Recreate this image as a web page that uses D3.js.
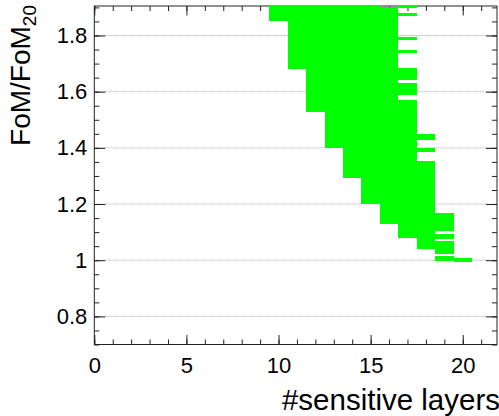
<!DOCTYPE html>
<html><head><meta charset="utf-8">
<script src="https://cdn.jsdelivr.net/npm/d3@7"></script>
<style>
body{margin:0;background:#fff}
svg{display:block}
</style>
</head><body>
<svg id="c" width="499" height="416"></svg>
<script>
// Data: each entry is one filled bin (x = number of sensitive layers, y range of FoM/FoM20)
const layers = [10, 11, 12, 13, 14, 15, 16,
                17, 17, 17, 17, 17, 17, 17,
                18, 18, 18,
                19, 19, 19, 19,
                20];
const yLow  = [1.852, 1.679, 1.528, 1.398, 1.294, 1.200, 1.128,
               1.899, 1.870, 1.783, 1.738, 1.643, 1.588, 1.0775,
               1.428, 1.384, 1.039,
               1.104, 1.075, 1.021, 0.999,
               0.994];
const yHigh = [1.908, 1.908, 1.908, 1.908, 1.908, 1.908, 1.902,
               1.908, 1.881, 1.796, 1.750, 1.684, 1.630, 1.570,
               1.448, 1.398, 1.354,
               1.167, 1.0935, 1.067, 1.0135,
               1.007];
const xTicks = [0, 5, 10, 15, 20];
const xTickLabels = ["0", "5", "10", "15", "20"];
const yTicks = [0.8, 1.0, 1.2, 1.4, 1.6, 1.8];
const yTickLabels = ["0.8", "1", "1.2", "1.4", "1.6", "1.8"];
const xTitle = "#sensitive layers";
const yTitleMain = "FoM/FoM";
const yTitleSub = "20";

const FONT = "'Liberation Sans', Arial, Helvetica, sans-serif";
const svg = d3.select("#c");
const L = 94.3, R = 497, T = 6, B = 344.5;
const x = d3.scaleLinear().domain([0, 21.86]).range([L, R]);
const y = d3.scaleLinear().domain([0.7, 1.905]).range([B, T]);

// gridlines
svg.append("g").selectAll("line").data(yTicks).join("line")
  .attr("x1", L).attr("x2", R)
  .attr("y1", d => y(d)).attr("y2", d => y(d))
  .attr("stroke", "#a8a8a8").attr("stroke-width", 1)
  .attr("stroke-dasharray", "1,1");

// axes
const xMinor = d3.range(0, 22, 1);
const yMinor = d3.range(0, 25).map(i => +(0.7 + i * 0.05).toFixed(2));
function styleAxis(g) {
  g.select(".domain").remove();
  g.selectAll("line").attr("stroke", "#222").attr("stroke-width", 1);
  g.selectAll("text").attr("font-family", FONT).attr("font-size", 22).attr("fill", "#000");
}
// bottom
svg.append("g").attr("transform", `translate(0,${B})`)
  .call(d3.axisBottom(x).tickValues(xMinor).tickSize(-5).tickFormat(""))
  .call(styleAxis);
svg.append("g").attr("transform", `translate(0,${B})`)
  .call(d3.axisBottom(x).tickValues(xTicks).tickSize(-9.5).tickPadding(13)
        .tickFormat((d, i) => xTickLabels[i]))
  .call(styleAxis);
// top
svg.append("g").attr("transform", `translate(0,${T})`)
  .call(d3.axisTop(x).tickValues(xMinor).tickSize(-5).tickFormat(""))
  .call(styleAxis);
svg.append("g").attr("transform", `translate(0,${T})`)
  .call(d3.axisTop(x).tickValues(xTicks).tickSize(-9.5).tickFormat(""))
  .call(styleAxis);
// left
svg.append("g").attr("transform", `translate(${L},0)`)
  .call(d3.axisLeft(y).tickValues(yMinor).tickSize(-5).tickFormat(""))
  .call(styleAxis);
svg.append("g").attr("transform", `translate(${L},0)`)
  .call(d3.axisLeft(y).tickValues(yTicks).tickSize(-11).tickPadding(7)
        .tickFormat((d, i) => yTickLabels[i]))
  .call(styleAxis);
// right
svg.append("g").attr("transform", `translate(${R},0)`)
  .call(d3.axisRight(y).tickValues(yMinor).tickSize(-5).tickFormat(""))
  .call(styleAxis);
svg.append("g").attr("transform", `translate(${R},0)`)
  .call(d3.axisRight(y).tickValues(yTicks).tickSize(-11).tickFormat(""))
  .call(styleAxis);

// frame
svg.append("rect").attr("x", L).attr("y", T).attr("width", R - L).attr("height", B - T)
  .attr("fill", "none").attr("stroke", "#222").attr("stroke-width", 1);

// bars (drawn over the frame/ticks, as in the reference)
const bins = layers.map((l, i) => ({l, lo: yLow[i], hi: yHigh[i]}));
svg.append("g").attr("shape-rendering", "crispEdges")
  .selectAll("rect").data(bins).join("rect")
  .attr("x", d => x(d.l - 0.5))
  .attr("width", d => x(d.l + 0.5) - x(d.l - 0.5))
  .attr("y", d => y(d.hi))
  .attr("height", d => y(d.lo) - y(d.hi))
  .attr("fill", "#00ff00");

// titles
svg.append("text").attr("x", 500).attr("y", 410).attr("text-anchor", "end")
  .attr("font-family", FONT).attr("font-size", 29.5).text(xTitle);
const yt = svg.append("text").attr("transform", "translate(30,5) rotate(-90)")
  .attr("text-anchor", "end").attr("font-family", FONT).attr("font-size", 28);
yt.append("tspan").text(yTitleMain);
yt.append("tspan").attr("font-size", 19).attr("dy", 6).text(yTitleSub);
</script>
</body></html>
